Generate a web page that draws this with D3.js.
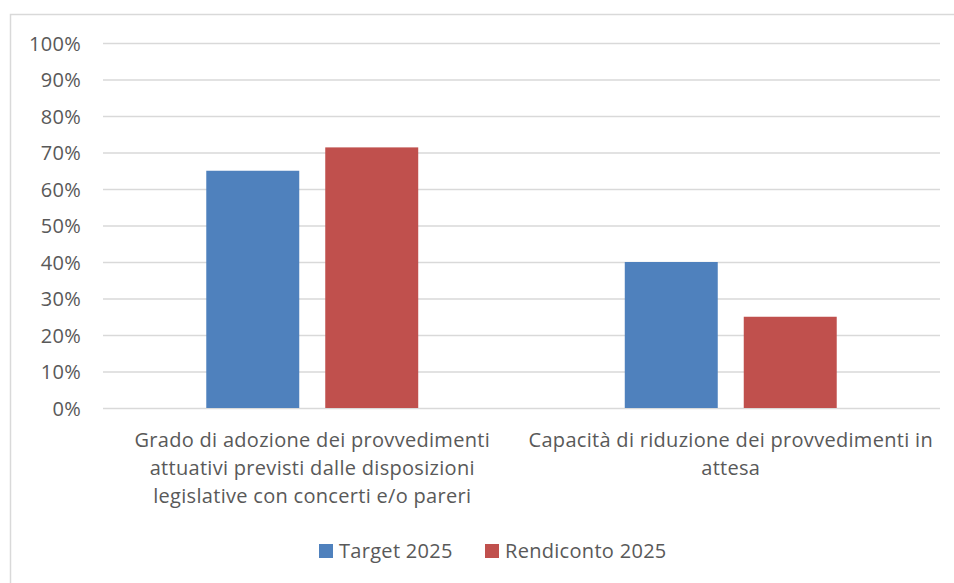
<!DOCTYPE html>
<html>
<head>
<meta charset="utf-8">
<script src="https://cdn.jsdelivr.net/npm/d3@7"></script>
<style>
  body { margin: 0; background: #fff; }
  svg text { font-family: "Open Sans", "Noto Sans", sans-serif; fill: #595959; letter-spacing: 0.3px; }
</style>
</head>
<body>
<div id="chart"></div>
<script>
// data
var categories = ["cat1", "cat2"]
var categoryLines = [
  ["Grado di adozione dei provvedimenti", "attuativi previsti dalle disposizioni", "legislative con concerti e/o pareri"],
  ["Capacità di riduzione dei provvedimenti in", "attesa"]
]
var seriesNames = ["Target 2025", "Rendiconto 2025"]
var seriesColors = ["#4f81bd", "#c0504d"]
var targetValues = [0.65, 0.40]
var rendicontoValues = [0.714, 0.25]
var yTicks = [0, 0.1, 0.2, 0.3, 0.4, 0.5, 0.6, 0.7, 0.8, 0.9, 1.0]

var width = 954
var height = 583
var margin = {left: 103, right: 14, top: 43, bottom: 175}
var fontSize = "20px"

var svg = d3.select("#chart")
  .append("svg")
  .attr("width", width)
  .attr("height", height)

// outer chart border
svg.append("rect")
  .attr("x", 10.5)
  .attr("y", 14.5)
  .attr("width", 980)
  .attr("height", 620)
  .attr("fill", "none")
  .attr("stroke", "#d9d9d9")
  .attr("stroke-width", 1.5)

var x0 = d3.scaleBand()
  .domain(categories)
  .range([margin.left, width - margin.right])
  .padding(0)

var x1 = d3.scaleBand()
  .domain(seriesNames)
  .range([0, x0.bandwidth()])
  .paddingInner(0.2185)
  .paddingOuter(0.868)

var y = d3.scaleLinear()
  .domain([0, 1])
  .range([height - margin.bottom, margin.top])

// gridlines
var yAxis = d3.axisLeft(y)
  .tickValues(yTicks)
  .tickFormat(d3.format(".0%"))
  .tickSize(-(width - margin.left - margin.right))
  .tickPadding(22)

var gy = svg.append("g")
  .attr("transform", "translate(" + margin.left + ",0)")
  .call(yAxis)
gy.select(".domain").remove()
gy.selectAll(".tick line")
  .attr("stroke", "#d9d9d9")
  .attr("stroke-width", 1.5)
gy.selectAll(".tick text")
  .attr("font-size", fontSize)
  .attr("font-family", "'Open Sans', sans-serif")
  .attr("dy", "0.35em")
  .style("fill", "#595959")

// bars
var rows = categories.map(function(c, i) {
  return {cat: c, values: [targetValues[i], rendicontoValues[i]]}
})

svg.append("g")
  .selectAll("g")
  .data(rows)
  .enter()
  .append("g")
  .attr("transform", function(d) { return "translate(" + x0(d.cat) + ",0)" })
  .selectAll("rect")
  .data(function(d) {
    return d.values.map(function(v, j) { return {name: seriesNames[j], value: v, color: seriesColors[j]} })
  })
  .enter()
  .append("rect")
  .attr("x", function(d) { return x1(d.name) })
  .attr("width", x1.bandwidth())
  .attr("y", function(d) { return y(d.value) })
  .attr("height", function(d) { return y(0) - y(d.value) })
  .attr("fill", function(d) { return d.color })

// category labels
categories.forEach(function(c, i) {
  var t = svg.append("text")
    .attr("x", x0(c) + x0.bandwidth() / 2)
    .attr("y", 447)
    .attr("text-anchor", "middle")
    .attr("font-size", fontSize)
  categoryLines[i].forEach(function(line, k) {
    t.append("tspan")
      .attr("x", x0(c) + x0.bandwidth() / 2)
      .attr("dy", k == 0 ? 0 : 28)
      .text(line)
  })
})

// legend
var legendX = [319, 485]
var legend = svg.append("g")
seriesNames.forEach(function(name, i) {
  legend.append("rect")
    .attr("x", legendX[i])
    .attr("y", 544)
    .attr("width", 14)
    .attr("height", 14)
    .attr("fill", seriesColors[i])
  legend.append("text")
    .attr("x", legendX[i] + 20)
    .attr("y", 558)
    .attr("font-size", fontSize)
    .text(name)
})
</script>
</body>
</html>
